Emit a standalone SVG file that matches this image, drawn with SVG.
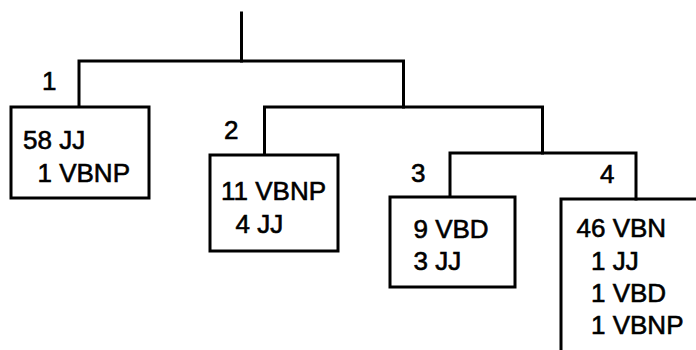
<svg xmlns="http://www.w3.org/2000/svg" width="696" height="350" viewBox="0 0 696 350">
<style>
.ln{fill:none;stroke:#000;stroke-width:3;stroke-linecap:square}
.bx{fill:#fff;stroke:#000;stroke-width:3}
text{font-family:"Liberation Sans",Arial,Helvetica,sans-serif;font-size:26px;fill:#000;stroke:#000;stroke-width:0.6}
</style>
<rect width="696" height="350" fill="#fff"/>
<g id="connectors">
<path class="ln" d="M241.5 13 V61"/>
<path class="ln" d="M79 107 V61 H403.5 V107"/>
<path class="ln" d="M264.5 155 V107 H542.5 V153"/>
<path class="ln" d="M450 197 V153 H636 V199"/>
</g>
<g id="node1">
<text x="42" y="90">1</text>
<rect class="bx" x="11" y="107" width="138" height="91"/>
<text x="23" y="149">58 JJ</text>
<text x="37.5" y="182">1 VBNP</text>
</g>
<g id="node2">
<text x="224" y="139">2</text>
<rect class="bx" x="210" y="155" width="128" height="96"/>
<text x="221" y="200">11 VBNP</text>
<text x="235.5" y="233">4 JJ</text>
</g>
<g id="node3">
<text x="411" y="182">3</text>
<rect class="bx" x="390" y="197" width="125" height="90"/>
<text x="413.5" y="238">9 VBD</text>
<text x="413.5" y="270">3 JJ</text>
</g>
<g id="node4">
<text x="600" y="183">4</text>
<path class="ln" d="M561 352 V199 H700"/>
<text x="576.5" y="237">46 VBN</text>
<text x="591" y="269.5">1 JJ</text>
<text x="591" y="302">1 VBD</text>
<text x="591" y="334">1 VBNP</text>
</g>
</svg>
